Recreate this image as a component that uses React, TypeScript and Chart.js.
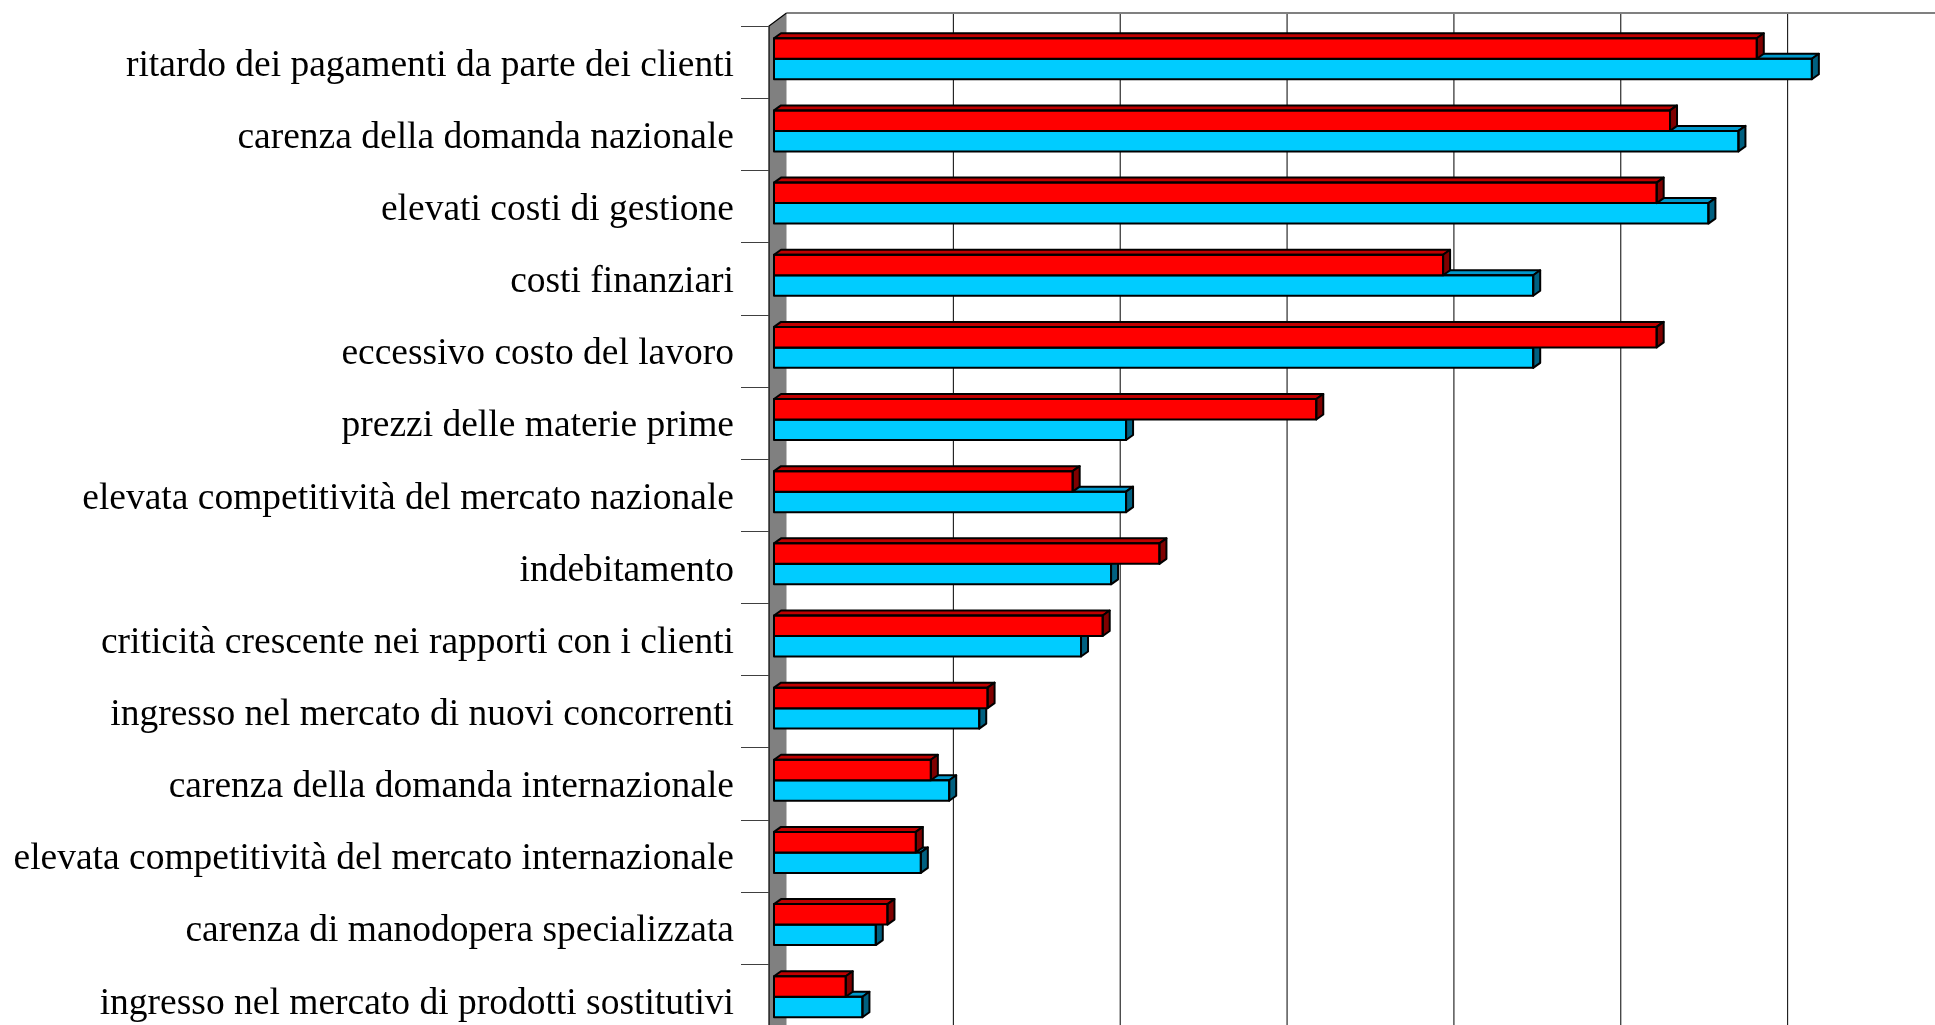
import React, { useEffect, useRef } from "react";
import { Chart, registerables } from "chart.js";

Chart.register(...registerables);

const categories = [
  "ritardo dei pagamenti da parte dei clienti",
  "carenza della domanda nazionale",
  "elevati costi di gestione",
  "costi finanziari",
  "eccessivo costo del lavoro",
  "prezzi delle materie prime",
  "elevata competitività del mercato nazionale",
  "indebitamento",
  "criticità crescente nei rapporti con i clienti",
  "ingresso nel mercato di nuovi concorrenti",
  "carenza della domanda internazionale",
  "elevata competitività del mercato internazionale",
  "carenza di manodopera specializzata",
  "ingresso nel mercato di prodotti sostitutivi",
];

const seriesRed = [58.9, 53.7, 52.9, 40.1, 52.9, 32.5, 17.9, 23.1, 19.7, 12.8, 9.4, 8.5, 6.8, 4.3];
const seriesBlue = [62.2, 57.8, 56.0, 45.5, 45.5, 21.1, 21.1, 20.2, 18.4, 12.3, 10.5, 8.8, 6.1, 5.3];
const seriesNames = ["Serie 1", "Serie 2"];
const xTicks = [0, 10, 20, 30, 40, 50, 60, 70];

const frontColors = ["#ff0000", "#00ccff"];
const topColors = ["#c00000", "#0099cc"];
const sideColors = ["#800000", "#006080"];

const DEPTH_X = 7;
const DEPTH_Y = 5;
const BACK_DX = 12.5;
const WALL_DY = 13;
const FRONT_DY = 3.3;

const threeD = {
  id: "threeD",
  beforeDatasetsDraw(chart: any) {
    const { ctx, chartArea, scales } = chart;
    const xs = scales.x;
    const x0 = xs.getPixelForValue(0);
    const backX0 = x0 + BACK_DX;
    const frontTop = chartArea.top + FRONT_DY;
    const backTop = frontTop - WALL_DY;
    const H = chart.height + 40;
    ctx.save();
    // vertical gridlines on back wall
    ctx.strokeStyle = "#000000";
    ctx.lineWidth = 1;
    for (const v of xTicks) {
      if (v === 0) continue;
      const px = xs.getPixelForValue(v) + BACK_DX;
      ctx.beginPath();
      ctx.moveTo(px, backTop);
      ctx.lineTo(px, H);
      ctx.stroke();
    }
    // top border of back wall
    ctx.strokeStyle = "#808080";
    ctx.lineWidth = 2;
    ctx.beginPath();
    ctx.moveTo(backX0, backTop);
    ctx.lineTo(chart.width + 10, backTop);
    ctx.stroke();
    // side wall
    const wf = x0 - 5;
    ctx.fillStyle = "#808080";
    ctx.beginPath();
    ctx.moveTo(wf, frontTop);
    ctx.lineTo(backX0, backTop);
    ctx.lineTo(backX0, H);
    ctx.lineTo(wf, H);
    ctx.closePath();
    ctx.fill();
    ctx.strokeStyle = "#000000";
    ctx.lineWidth = 1.2;
    ctx.beginPath();
    ctx.moveTo(wf, H);
    ctx.lineTo(wf, frontTop);
    ctx.lineTo(backX0, backTop);
    ctx.stroke();
    // category tick marks
    const band = (chartArea.bottom - chartArea.top) / categories.length;
    ctx.strokeStyle = "#404040";
    ctx.lineWidth = 1;
    for (let k = 0; k <= categories.length; k++) {
      const yy = Math.round(frontTop + k * band) + 0.5;
      ctx.beginPath();
      ctx.moveTo(wf - 28, yy);
      ctx.lineTo(wf, yy);
      ctx.stroke();
    }
    ctx.restore();
  },
  afterDatasetDraw(chart: any, args: any) {
    const { ctx } = chart;
    const idx = args.index;
    const meta = args.meta;
    ctx.save();
    ctx.strokeStyle = "#000000";
    ctx.lineWidth = 2;
    ctx.lineJoin = "round";
    for (const el of meta.data) {
      const p = el.getProps(["x", "y", "base", "height"], true);
      const left = Math.min(p.base, p.x);
      const right = Math.max(p.base, p.x);
      const top = p.y - p.height / 2;
      const bottom = p.y + p.height / 2;
      // top face
      ctx.fillStyle = topColors[idx];
      ctx.beginPath();
      ctx.moveTo(left, top);
      ctx.lineTo(left + DEPTH_X, top - DEPTH_Y);
      ctx.lineTo(right + DEPTH_X, top - DEPTH_Y);
      ctx.lineTo(right, top);
      ctx.closePath();
      ctx.fill();
      ctx.stroke();
      // side face
      ctx.fillStyle = sideColors[idx];
      ctx.beginPath();
      ctx.moveTo(right, top);
      ctx.lineTo(right + DEPTH_X, top - DEPTH_Y);
      ctx.lineTo(right + DEPTH_X, bottom - DEPTH_Y);
      ctx.lineTo(right, bottom);
      ctx.closePath();
      ctx.fill();
      ctx.stroke();
      // front outline
      ctx.strokeRect(left, top, right - left, bottom - top);
    }
    ctx.restore();
  },
};

export default function App() {
  const ref = useRef<HTMLCanvasElement | null>(null);
  useEffect(() => {
    if (!ref.current) return;
    const chart = new Chart(ref.current, {
      type: "bar",
      data: {
        labels: categories,
        datasets: [
          {
            label: seriesNames[0],
            data: seriesRed,
            backgroundColor: frontColors[0],
            borderColor: "#000000",
            borderWidth: 0,
            borderSkipped: false,
            barPercentage: 1.0,
            categoryPercentage: 0.568,
          },
          {
            label: seriesNames[1],
            data: seriesBlue,
            backgroundColor: frontColors[1],
            borderColor: "#000000",
            borderWidth: 0,
            borderSkipped: false,
            barPercentage: 1.0,
            categoryPercentage: 0.568,
          },
        ],
      },
      options: {
        indexAxis: "y",
        responsive: false,
        maintainAspectRatio: false,
        animation: false,
        devicePixelRatio: 1,
        layout: { padding: { top: 22.7, bottom: 67.2, left: 0, right: 0 } },
        plugins: {
          legend: { display: false },
          tooltip: { enabled: false },
          title: { display: false },
        },
        scales: {
          x: {
            type: "linear",
            min: xTicks[0],
            max: xTicks[xTicks.length - 1],
            display: false,
            ticks: { stepSize: 10 },
          },
          y: {
            type: "category",
            grid: { display: false, drawTicks: false },
            border: { display: false },
            ticks: {
              color: "#000000",
              font: { family: "'Liberation Serif', 'Times New Roman', serif", size: 37.5 },
              padding: 40,
              labelOffset: 7,
              autoSkip: false,
            },
            afterFit(scale: any) {
              scale.width = 774;
              scale.paddingTop = 0;
              scale.paddingBottom = 0;
            },
          },
        },
      },
      plugins: [threeD],
    } as any);
    return () => chart.destroy();
  }, []);
  return (
    <div
      style={{
        position: "fixed",
        left: 0,
        top: 0,
        width: 1935,
        height: 1025,
        overflow: "hidden",
        background: "#ffffff",
      }}
    >
      <canvas ref={ref} width={1942} height={1100} style={{ display: "block" }} />
    </div>
  );
}
